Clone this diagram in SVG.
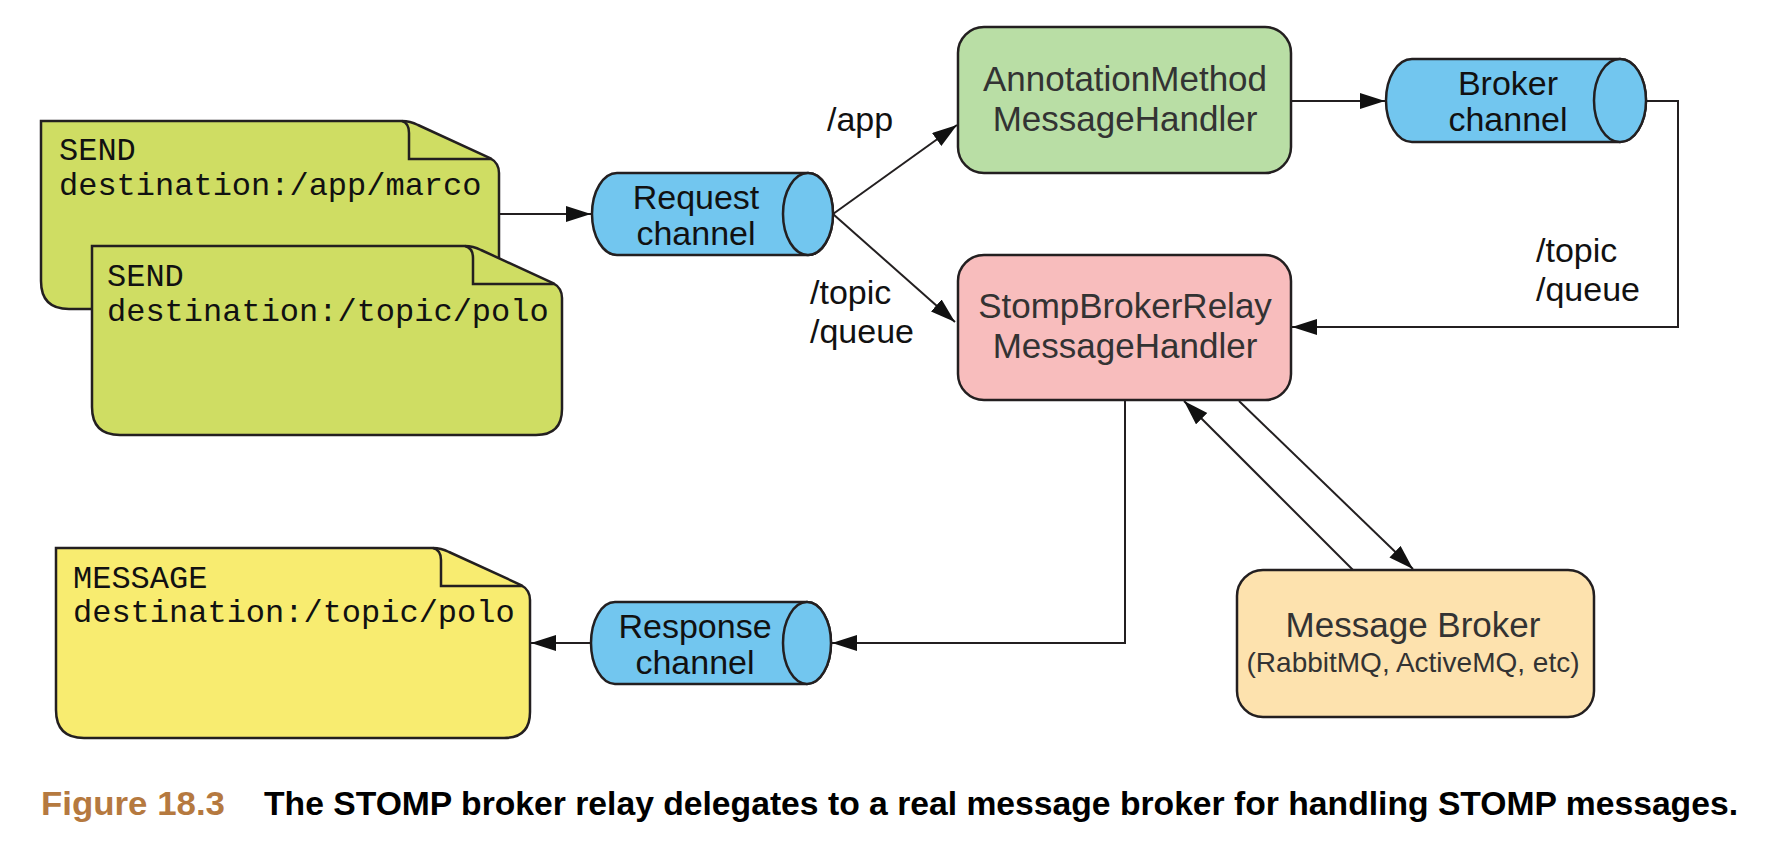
<svg xmlns="http://www.w3.org/2000/svg" width="1776" height="850" viewBox="0 0 1776 850">
<style>
.shape{stroke:#231f20;stroke-width:2.5}
.note1{fill:#cfdd63}
.note3{fill:#f8ec70}
.cyl{fill:#72c6ef}
.green{fill:#b9dea5}
.pink{fill:#f8bdbd}
.orange{fill:#fde2ae}
.mono{font-family:"Liberation Mono","Courier New",monospace;font-size:32px;fill:#111}
.lbl{font-family:"Liberation Sans",Arial,Helvetica,sans-serif;font-size:34px;fill:#111;text-anchor:middle}
.box{font-family:"Liberation Sans",Arial,Helvetica,sans-serif;font-size:35px;fill:#333;text-anchor:middle}
.sub{font-family:"Liberation Sans Narrow","Liberation Sans",Arial,sans-serif;font-size:28px;fill:#333;text-anchor:middle}
.path{font-family:"Liberation Sans",Arial,Helvetica,sans-serif;font-size:34px;fill:#111}
.cap{font-family:"Liberation Sans Narrow","Liberation Sans",Arial,sans-serif;font-size:33px;font-weight:bold}
.conn{fill:none;stroke:#231f20;stroke-width:2}
.fold{fill:none;stroke:#231f20;stroke-width:2.5}
</style>
<defs>
<marker id="arr" markerUnits="userSpaceOnUse" markerWidth="26" markerHeight="18" refX="25" refY="8" orient="auto">
<path d="M0,0 L25,8 L0,16 Z" fill="#111"/>
</marker>
</defs>
<rect width="1776" height="850" fill="#fff"/>

<g id="connectors">
<line class="conn" x1="499" y1="214" x2="591" y2="214" marker-end="url(#arr)"/>
<line class="conn" x1="833" y1="214" x2="957" y2="125" marker-end="url(#arr)"/>
<line class="conn" x1="833" y1="214" x2="955" y2="322" marker-end="url(#arr)"/>
<line class="conn" x1="1291" y1="101" x2="1385" y2="101" marker-end="url(#arr)"/>
<polyline class="conn" points="1646,101 1678,101 1678,327 1292,327" marker-end="url(#arr)"/>
<polyline class="conn" points="1125,400 1125,643 832,643" marker-end="url(#arr)"/>
<line class="conn" x1="591" y1="643" x2="531" y2="643" marker-end="url(#arr)"/>
<line class="conn" x1="1353" y1="570" x2="1184" y2="401" marker-end="url(#arr)"/>
<line class="conn" x1="1239" y1="401" x2="1413" y2="569" marker-end="url(#arr)"/>
</g>

<g id="note-send-app">
<path class="shape note1" d="M41,121 H402 Q410,121 418,125 L490,158 Q499,163 499,173 V309 H69 Q41,309 41,281 Z"/>
<path class="fold" d="M402,121 Q409,123 409,133 V159 H492"/>
<text class="mono" x="59" y="160">SEND</text>
<text class="mono" x="59" y="195">destination:/app/marco</text>
</g>

<g id="note-send-topic">
<path class="shape note1" d="M92,246 H465 Q473,246 481,250 L553,283 Q562,288 562,298 V409 Q562,435 536,435 H120 Q92,435 92,407 Z"/>
<path class="fold" d="M465,246 Q473,248 473,258 V284 H555"/>
<text class="mono" x="107" y="286">SEND</text>
<text class="mono" x="107" y="321">destination:/topic/polo</text>
</g>

<g id="note-message">
<path class="shape note3" d="M56,548 H433 Q441,548 449,552 L521,585 Q530,590 530,600 V712 Q530,738 504,738 H84 Q56,738 56,710 Z"/>
<path class="fold" d="M433,548 Q441,550 441,560 V586 H523"/>
<text class="mono" x="73" y="588">MESSAGE</text>
<text class="mono" x="73" y="622">destination:/topic/polo</text>
</g>

<g id="request-channel">
<path class="shape cyl" d="M617,173 H808 A25,41 0 0 1 808,255 H617 A25,41 0 0 1 617,173 Z"/>
<ellipse class="shape cyl" cx="808" cy="214" rx="25" ry="41"/>
<text class="lbl" x="696" y="209">Request</text>
<text class="lbl" x="696" y="245">channel</text>
</g>

<g id="broker-channel">
<path class="shape cyl" d="M1412,59 H1620 A26,41.5 0 0 1 1620,142 H1412 A26,41.5 0 0 1 1412,59 Z"/>
<ellipse class="shape cyl" cx="1620" cy="100.5" rx="26" ry="41.5"/>
<text class="lbl" x="1508" y="95">Broker</text>
<text class="lbl" x="1508" y="131">channel</text>
</g>

<g id="response-channel">
<path class="shape cyl" d="M615,602 H807 A24,41 0 0 1 807,684 H615 A24,41 0 0 1 615,602 Z"/>
<ellipse class="shape cyl" cx="807" cy="643" rx="24" ry="41"/>
<text class="lbl" x="695" y="638">Response</text>
<text class="lbl" x="695" y="674">channel</text>
</g>

<g id="annotation-handler">
<rect class="shape green" x="958" y="27" width="333" height="146" rx="26" ry="26"/>
<text class="box" x="1125" y="91">AnnotationMethod</text>
<text class="box" x="1125" y="131">MessageHandler</text>
</g>

<g id="stomp-relay">
<rect class="shape pink" x="958" y="255" width="333" height="145" rx="26" ry="26"/>
<text class="box" x="1125" y="318">StompBrokerRelay</text>
<text class="box" x="1125" y="358">MessageHandler</text>
</g>

<g id="message-broker">
<rect class="shape orange" x="1237" y="570" width="357" height="147" rx="26" ry="26"/>
<text class="box" x="1413" y="637">Message Broker</text>
<text class="sub" x="1413" y="672">(RabbitMQ, ActiveMQ, etc)</text>
</g>

<g id="labels">
<text class="path" x="827" y="131">/app</text>
<text class="path" x="810" y="304">/topic</text>
<text class="path" x="810" y="343">/queue</text>
<text class="path" x="1536" y="262">/topic</text>
<text class="path" x="1536" y="301">/queue</text>
</g>

<g id="caption">
<text class="cap" x="41" y="815" fill="#b5793f" textLength="184" lengthAdjust="spacingAndGlyphs">Figure 18.3</text>
<text class="cap" x="264" y="815" fill="#000" textLength="1474" lengthAdjust="spacingAndGlyphs">The STOMP broker relay delegates to a real message broker for handling STOMP messages.</text>
</g>
</svg>
